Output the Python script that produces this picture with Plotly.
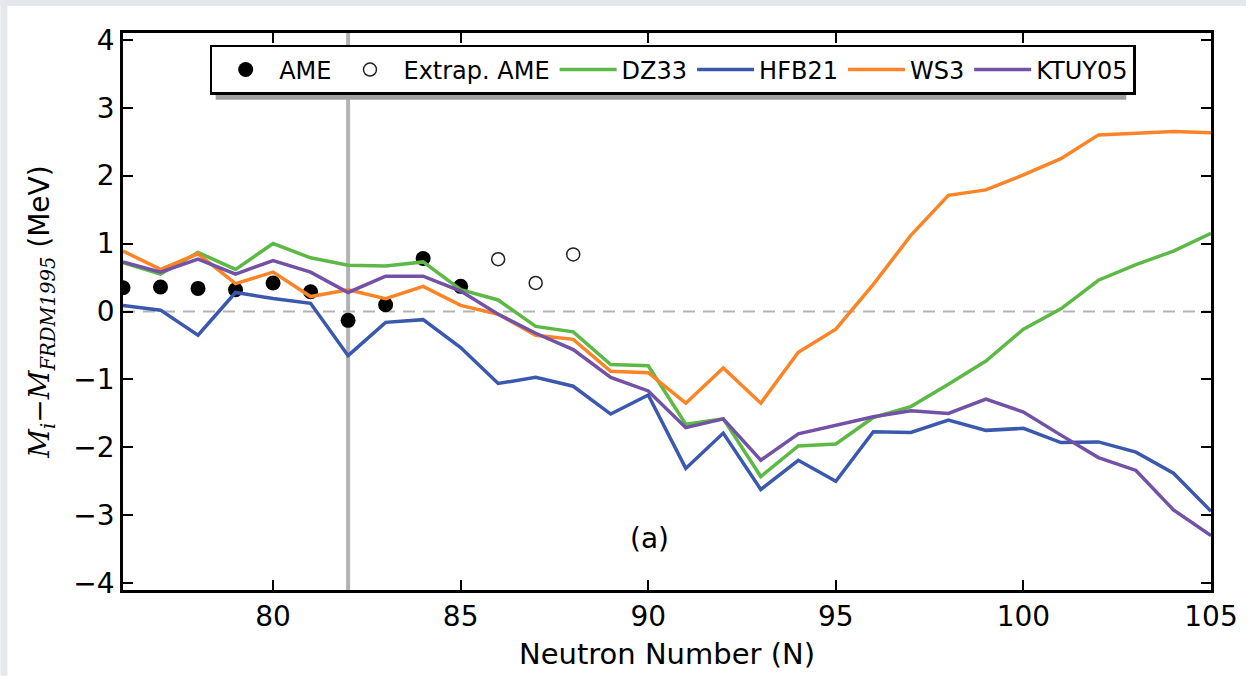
import plotly.graph_objects as go

N = list(range(76, 106))

ame_N = [76, 77, 78, 79, 80, 81, 82, 83, 84, 85]
ame_val = [0.35, 0.36, 0.34, 0.32, 0.42, 0.29, -0.13, 0.10, 0.78, 0.37]

extrap_N = [86, 87, 88]
extrap_val = [0.77, 0.42, 0.84]

dz33 = [0.72, 0.55, 0.87, 0.62, 1.00, 0.79, 0.68, 0.67, 0.73, 0.32,
        0.17, -0.22, -0.30, -0.78, -0.80, -1.66, -1.58, -2.43, -1.98, -1.95,
        -1.56, -1.40, -1.07, -0.73, -0.26, 0.04, 0.46, 0.69, 0.89, 1.15]
hfb21 = [0.09, 0.02, -0.35, 0.28, 0.19, 0.12, -0.65, -0.16, -0.12, -0.53,
         -1.06, -0.97, -1.10, -1.51, -1.23, -2.31, -1.79, -2.62, -2.19, -2.50,
         -1.77, -1.78, -1.60, -1.75, -1.72, -1.93, -1.92, -2.07, -2.38, -2.94]
ws3 = [0.89, 0.62, 0.85, 0.41, 0.58, 0.22, 0.32, 0.19, 0.37, 0.09,
       -0.04, -0.35, -0.41, -0.88, -0.90, -1.35, -0.83, -1.35, -0.60, -0.26,
       0.40, 1.12, 1.71, 1.79, 2.01, 2.25, 2.60, 2.63, 2.65, 2.63]
ktuy05 = [0.73, 0.58, 0.77, 0.55, 0.75, 0.58, 0.28, 0.52, 0.52, 0.30,
          -0.04, -0.32, -0.56, -0.97, -1.17, -1.71, -1.58, -2.19, -1.80, -1.68,
          -1.55, -1.46, -1.50, -1.29, -1.48, -1.82, -2.15, -2.34, -2.92, -3.30]

x_ticks = [80, 85, 90, 95, 100, 105]
y_ticks = [-4, -3, -2, -1, 0, 1, 2, 3, 4]

C_GREEN = "#5DB946"
C_BLUE = "#3A58AD"
C_ORANGE = "#FC8426"
C_PURPLE = "#7251A6"

FONT = "DejaVu Sans"

fig = go.Figure()

fig.add_trace(go.Scatter(x=ame_N, y=ame_val, mode="markers", name="AME",
                         marker=dict(color="black", size=15, line=dict(width=0))))
fig.add_trace(go.Scatter(x=extrap_N, y=extrap_val, mode="markers", name="Extrap. AME",
                         marker=dict(color="white", size=13, line=dict(color="#222", width=1.5))))
for name, vals, col in [("DZ33", dz33, C_GREEN), ("HFB21", hfb21, C_BLUE),
                        ("WS3", ws3, C_ORANGE), ("KTUY05", ktuy05, C_PURPLE)]:
    fig.add_trace(go.Scatter(x=N, y=vals, mode="lines", name=name,
                             line=dict(color=col, width=3.5)))

# layout geometry (pixels)
L, R, T, B = 123, 1215, 33, 592
W, H = 1250, 678
pw, ph = R - L, B - T


def px(xp):
    return (xp - L) / pw


def py(yp):
    return (B - yp) / ph


shapes = [
    # outer gray frame
    dict(type="rect", xref="paper", yref="paper", x0=px(0), x1=px(W), y0=py(6), y1=py(0),
         fillcolor="#E4E7EB", line=dict(width=0), layer="below"),
    dict(type="rect", xref="paper", yref="paper", x0=px(0), x1=px(7), y0=py(H), y1=py(0),
         fillcolor="#E4E7EB", line=dict(width=0), layer="below"),
    # zero dashed line
    dict(type="line", xref="paper", yref="y", x0=0, x1=1, y0=0, y1=0,
         line=dict(color="#B3B3B3", width=2, dash="12px,8px"), layer="below"),
    # vertical gray line at N=82
    dict(type="line", xref="x", yref="paper", x0=82, x1=82, y0=0, y1=1,
         line=dict(color="#B3B3B3", width=4), layer="below"),
    # legend shadow
    dict(type="rect", xref="paper", yref="paper", x0=px(216), x1=px(1130), y0=py(100), y1=py(51),
         fillcolor="#A0A0A0", line=dict(width=0), layer="above"),
]

axis_common = dict(showgrid=False, zeroline=False, showline=True, linecolor="black",
                   linewidth=2.5, mirror="ticks", ticks="inside", ticklen=10,
                   tickwidth=1.5, tickcolor="black",
                   tickfont=dict(family=FONT, size=28, color="black"))

fig.update_layout(
    width=W, height=H,
    margin=dict(l=L, r=W - R, t=T, b=H - B),
    paper_bgcolor="white", plot_bgcolor="white",
    font=dict(family=FONT, color="black"),
    shapes=shapes,
    showlegend=True,
    legend=dict(orientation="h", x=px(210), y=py(45), xanchor="left", yanchor="top",
                bgcolor="white", bordercolor="black", borderwidth=2.5,
                font=dict(family=FONT, size=24, color="black"),
                itemwidth=57, tracegroupgap=0),
    annotations=[dict(text="(a)", x=px(651), y=py(559), xref="paper", yref="paper",
                      showarrow=False, font=dict(family=FONT, size=28, color="black"))],
)

fig.update_xaxes(range=[76, 105], tickvals=x_ticks, ticktext=[str(v) for v in x_ticks],
                 title=dict(text="Neutron Number (N)", font=dict(family=FONT, size=29), standoff=12),
                 **axis_common)
ylabel = ("<span style='font-family:DejaVu Serif'><i>M<sub>i</sub></i>\u2212"
          "<i>M<sub>FRDM1995</sub></i></span> (MeV)")
fig.update_yaxes(range=[-4.1, 4.1], tickvals=y_ticks,
                 ticktext=[("\u2212" + str(-v)) if v < 0 else str(v) for v in y_ticks],
                 title=dict(text=ylabel, font=dict(family=FONT, size=28), standoff=16),
                 **axis_common)

fig.write_html("out.html")
